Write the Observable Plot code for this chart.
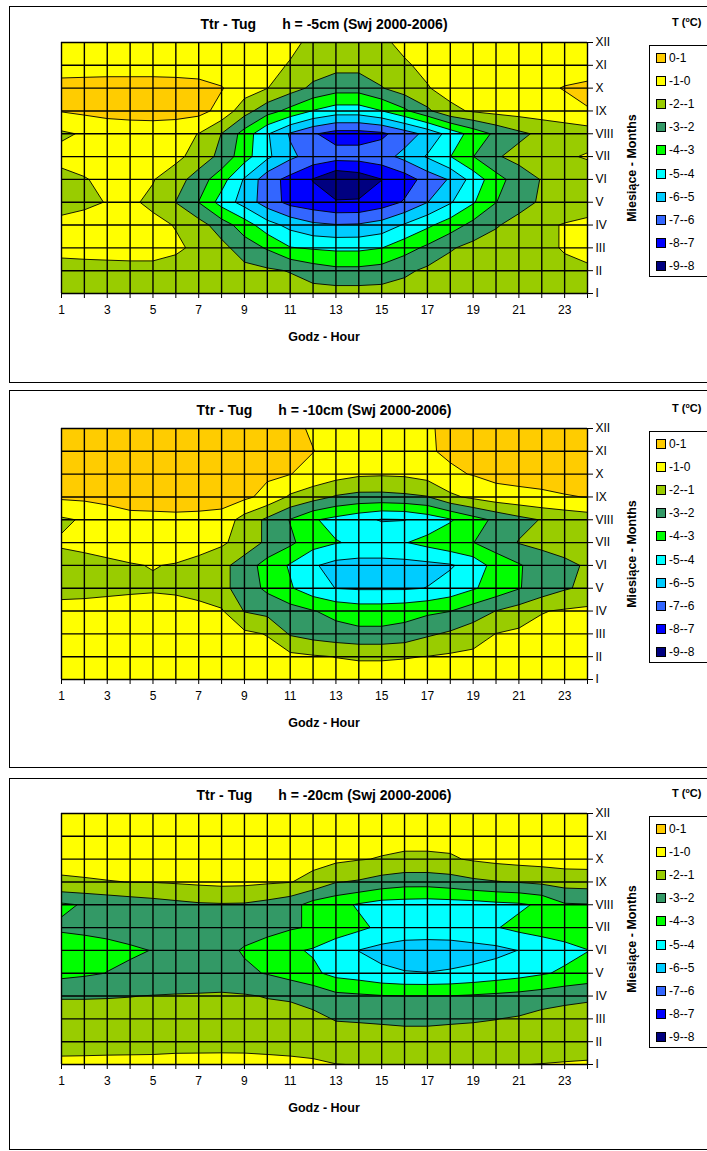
<!DOCTYPE html>
<html><head><meta charset="utf-8">
<script src="https://cdn.jsdelivr.net/npm/d3@7"></script>
<script src="https://cdn.jsdelivr.net/npm/@observablehq/plot@0.6"></script>
<style>
body{margin:0;width:707px;height:1151px;overflow:hidden;background:#fff;position:relative;font-family:"Liberation Sans",Arial,sans-serif;color:#000;}
.frame{position:absolute;left:9px;width:712px;border:1px solid #000;box-sizing:border-box;}
.abs{position:absolute;white-space:pre;}
.title{font-weight:bold;font-size:14px;transform:translate(-50%,-50%);}
.xlab{font-weight:bold;font-size:12.5px;transform:translate(-50%,-50%);}
.ylab{font-weight:bold;font-size:12.5px;transform:translate(-50%,-50%) rotate(-90deg);}
.unit{font-weight:bold;font-size:11px;transform:translate(0,-50%);}
.legend{position:absolute;left:649px;width:80px;border:1px solid #000;box-sizing:border-box;background:#fff;}
.item{position:absolute;left:6px;font-size:12px;line-height:14px;white-space:pre;}
.sw{display:inline-block;width:8px;height:8px;border:1px solid #000;margin-right:3px;vertical-align:-1px;}
svg{position:absolute;left:0;}
</style></head><body>
<script>
// ---- axes / categories ----
const hours = [1,2,3,4,5,6,7,8,9,10,11,12,13,14,15,16,17,18,19,20,21,22,23,24];
const monthNums = [1,2,3,4,5,6,7,8,9,10,11,12];
const monthLabels = ["I","II","III","IV","V","VI","VII","VIII","IX","X","XI","XII"];
const bandLabels = ["0-1","-1-0","-2--1","-3--2","-4--3","-5--4","-6--5","-7--6","-8--7","-9--8"];
const bandLows = [0,-1,-2,-3,-4,-5,-6,-7,-8,-9];
const bandColors = ["#FFCC00","#FFFF00","#99CC00","#339966","#00FF00","#00FFFF","#00CCFF","#3366FF","#0000FF","#000080"];
const depthLabels = ["-5cm","-10cm","-20cm"];

// ---- Ttr - Tug, h = -5cm : rows = months I..XII, columns = hours 1..24 ----
const tdiff5 = [
/* I    */ [-1.45,-1.45,-1.45,-1.45,-1.45,-1.45,-1.45,-1.5,-1.5,-1.55,-1.55,-1.6,-1.6,-1.6,-1.6,-1.55,-1.5,-1.5,-1.45,-1.45,-1.45,-1.45,-1.4,-1.4],
/* II   */ [-1.25,-1.3,-1.3,-1.3,-1.3,-1.35,-1.45,-1.6,-1.7,-1.85,-2.05,-2.5,-2.75,-2.75,-2.6,-2.2,-1.8,-1.55,-1.4,-1.3,-1.25,-1.2,-1.15,-1.1],
/* III  */ [-0.8,-0.7,-0.65,-0.6,-0.6,-0.85,-1.2,-1.7,-2.5,-3.1,-3.95,-4.1,-4.2,-4.2,-4.02,-3.4,-2.8,-2.1,-1.7,-1.5,-1.3,-1.15,-0.95,-0.8],
/* IV   */ [-0.85,-0.7,-0.65,-0.6,-0.75,-1.05,-1.6,-2.5,-3.5,-4.6,-5.3,-5.8,-5.95,-5.9,-5.6,-4.9,-4.2,-3.5,-2.7,-2.1,-1.6,-1.15,-0.95,-0.85],
/* V    */ [-1.2,-1.15,-0.97,-0.85,-1.2,-2.02,-3.02,-4.4,-5.4,-6.5,-7.3,-7.6,-7.9,-7.9,-7.5,-6.9,-6.02,-5.1,-4.1,-3.02,-2.4,-1.85,-1.5,-1.3],
/* VI   */ [-1.3,-1.05,-0.8,-0.7,-0.95,-1.55,-2.5,-3.6,-5.1,-6.6,-7.3,-8.05,-8.9,-8.6,-8.02,-7.5,-6.6,-5.9,-4.6,-3.4,-2.5,-1.95,-1.7,-1.6],
/* VII  */ [-0.7,-0.65,-0.55,-0.5,-0.55,-0.75,-1.4,-2.3,-3.6,-4.8,-5.8,-6.4,-6.6,-6.6,-6.4,-5.7,-4.9,-4.02,-3.02,-2.1,-1.7,-1.45,-1.15,-0.9],
/* VIII */ [-1.15,-0.9,-0.7,-0.6,-0.6,-0.75,-1.02,-2.02,-3.4,-4.9,-6.1,-6.9,-7.4,-7.4,-7.2,-6.5,-5.7,-4.6,-3.6,-2.8,-2.2,-1.8,-1.6,-1.5],
/* IX   */ [0.05,0.2,0.35,0.4,0.45,0.45,0.3,-0.3,-1.6,-2.6,-3.3,-4.05,-4.5,-4.5,-4.02,-3.2,-2.2,-1.2,-0.9,-0.7,-0.6,-0.5,-0.35,-0.05],
/* X    */ [0.4,0.45,0.45,0.45,0.45,0.4,0.3,0.05,-0.5,-0.98,-1.6,-2.2,-2.6,-2.6,-2.05,-1.5,-1.05,-0.7,-0.5,-0.4,-0.3,-0.2,0.05,0.2],
/* XI   */ [-0.5,-0.5,-0.45,-0.45,-0.45,-0.45,-0.45,-0.5,-0.6,-0.8,-1.05,-1.5,-1.7,-1.7,-1.5,-1.1,-0.8,-0.6,-0.5,-0.45,-0.45,-0.45,-0.45,-0.45],
/* XII  */ [-0.4,-0.4,-0.4,-0.45,-0.5,-0.5,-0.55,-0.6,-0.7,-0.75,-0.85,-1.15,-1.3,-1.35,-1.15,-0.8,-0.7,-0.6,-0.55,-0.5,-0.5,-0.45,-0.4,-0.4]
];

// ---- Ttr - Tug, h = -10cm ----
const tdiff10 = [
/* I    */ [-0.25,-0.25,-0.25,-0.25,-0.25,-0.25,-0.3,-0.3,-0.35,-0.4,-0.45,-0.5,-0.55,-0.55,-0.55,-0.55,-0.5,-0.45,-0.4,-0.35,-0.3,-0.3,-0.25,-0.25],
/* II   */ [-0.3,-0.3,-0.3,-0.3,-0.3,-0.3,-0.35,-0.4,-0.5,-0.6,-0.75,-0.9,-1.02,-1.1,-1.1,-1.05,-0.98,-0.85,-0.75,-0.6,-0.5,-0.45,-0.4,-0.4],
/* III  */ [-0.5,-0.5,-0.5,-0.5,-0.5,-0.5,-0.55,-0.65,-0.8,-1.05,-2.1,-2.4,-2.6,-2.75,-2.75,-2.6,-2.15,-1.85,-1.5,-0.98,-0.8,-0.7,-0.65,-0.6],
/* IV   */ [-0.75,-0.7,-0.65,-0.6,-0.6,-0.65,-0.75,-0.9,-2.05,-2.3,-2.6,-2.95,-3.3,-3.5,-3.5,-3.4,-3.2,-3.02,-2.5,-1.98,-1.6,-1.05,-0.9,-0.8],
/* V    */ [-1.25,-1.25,-1.2,-1.15,-1.1,-1.15,-1.3,-1.7,-2.5,-3.2,-3.9,-4.6,-5.02,-5.1,-5.1,-5.1,-4.98,-4.6,-4.1,-3.6,-3.05,-2.6,-2.1,-1.8],
/* VI   */ [-1.3,-1.25,-1.15,-1.05,-0.97,-1.05,-1.3,-1.7,-2.5,-3.4,-4.1,-4.9,-5.3,-5.4,-5.4,-5.35,-5.25,-5.1,-4.6,-3.6,-3.1,-2.5,-2.2,-1.9],
/* VII  */ [-0.9,-0.8,-0.7,-0.6,-0.55,-0.55,-0.6,-0.85,-1.4,-2.2,-2.8,-3.6,-3.95,-4.15,-4.15,-4.05,-3.7,-3.3,-3.02,-2.5,-1.95,-1.75,-1.6,-1.55],
/* VIII */ [-1.15,-0.9,-0.55,-0.35,-0.3,-0.25,-0.3,-0.4,-1.4,-2.2,-3.05,-3.9,-4.3,-4.7,-5.08,-5.03,-4.6,-4.1,-3.4,-2.8,-2.3,-1.95,-1.7,-1.5],
/* IX   */ [0.15,0.2,0.3,0.5,0.5,0.5,0.5,0.45,0.2,-0.3,-1.15,-1.6,-2.1,-2.3,-2.3,-2.2,-2.05,-1.2,-0.8,-0.45,-0.3,-0.15,-0.05,0.02],
/* X    */ [0.4,0.45,0.45,0.45,0.45,0.45,0.45,0.4,0.3,0.15,0.02,-0.3,-0.6,-0.85,-0.9,-0.85,-0.6,-0.15,0.05,0.3,0.35,0.3,0.35,0.35],
/* XI   */ [0.45,0.5,0.5,0.5,0.5,0.5,0.5,0.45,0.4,0.3,0.15,0.02,-0.3,-0.4,-0.4,-0.3,-0.1,0.15,0.25,0.3,0.35,0.35,0.35,0.35],
/* XII  */ [0.5,0.5,0.5,0.5,0.5,0.5,0.5,0.45,0.4,0.3,0.2,-0.1,-0.3,-0.35,-0.35,-0.3,-0.05,0.1,0.2,0.3,0.35,0.4,0.4,0.4]
];

// ---- Ttr - Tug, h = -20cm ----
const tdiff20 = [
/* I    */ [-0.75,-0.75,-0.75,-0.75,-0.75,-0.75,-0.75,-0.75,-0.75,-0.78,-0.8,-0.85,-0.985,-1.02,-1.02,-1.02,-1.02,-1.02,-1.02,-1.02,-1.02,-0.98,-0.93,-0.9],
/* II   */ [-1.43,-1.4,-1.36,-1.34,-1.32,-1.26,-1.25,-1.24,-1.25,-1.28,-1.34,-1.43,-1.55,-1.5,-1.53,-1.58,-1.58,-1.53,-1.51,-1.5,-1.5,-1.5,-1.51,-1.43],
/* III  */ [-1.7,-1.7,-1.6,-1.6,-1.55,-1.5,-1.5,-1.5,-1.55,-1.6,-1.85,-1.8,-2.05,-2.1,-2.15,-2.2,-2.2,-2.15,-2.1,-2.02,-1.9,-1.62,-1.5,-1.6],
/* IV   */ [-2.05,-2.05,-2.05,-2.02,-1.97,-1.93,-1.9,-1.85,-1.92,-2.05,-2.05,-2.3,-2.75,-2.85,-2.95,-2.99,-2.99,-2.98,-2.9,-2.8,-2.7,-2.55,-2.35,-2.15],
/* V    */ [-3.3,-3.15,-2.98,-2.85,-2.75,-2.7,-2.7,-2.75,-2.85,-3.05,-3.4,-3.8,-4.3,-4.5,-4.8,-4.95,-4.98,-4.9,-4.75,-4.55,-4.35,-4.1,-3.85,-3.7],
/* VI   */ [-3.5,-3.4,-3.25,-3.1,-2.98,-2.8,-2.7,-2.75,-3.08,-3.35,-3.85,-4.1,-4.55,-5.02,-5.3,-5.4,-5.45,-5.45,-5.4,-5.25,-4.98,-4.6,-4.3,-4.02],
/* VII  */ [-2.87,-2.8,-2.75,-2.7,-2.65,-2.6,-2.6,-2.6,-2.65,-2.75,-2.9,-3.1,-3.5,-3.8,-4.2,-4.5,-4.5,-4.45,-4.2,-4.05,-3.75,-3.6,-3.5,-3.45],
/* VIII */ [-3.15,-2.93,-2.73,-2.55,-2.4,-2.25,-2.12,-2.08,-2.1,-2.3,-2.6,-3.4,-3.7,-4.1,-4.4,-4.45,-4.5,-4.45,-4.4,-4.25,-4.15,-3.85,-3.1,-3.05],
/* IX   */ [-1.13,-1.08,-1.03,-0.99,-0.97,-0.9,-0.82,-0.75,-0.78,-0.88,-0.97,-1.25,-1.95,-2.1,-2.4,-2.6,-2.6,-2.45,-2.2,-2.05,-1.95,-1.8,-1.6,-1.55],
/* X    */ [-0.7,-0.68,-0.65,-0.62,-0.6,-0.58,-0.55,-0.52,-0.52,-0.55,-0.62,-0.75,-0.8,-0.95,-1.05,-1.15,-1.15,-1.1,-0.9,-0.75,-0.65,-0.6,-0.55,-0.55],
/* XI   */ [-0.5,-0.5,-0.5,-0.5,-0.48,-0.45,-0.45,-0.45,-0.45,-0.45,-0.5,-0.55,-0.6,-0.65,-0.7,-0.72,-0.72,-0.7,-0.65,-0.6,-0.55,-0.5,-0.5,-0.5],
/* XII  */ [-0.3,-0.3,-0.3,-0.3,-0.3,-0.3,-0.3,-0.3,-0.3,-0.3,-0.3,-0.35,-0.4,-0.45,-0.5,-0.5,-0.5,-0.45,-0.4,-0.35,-0.35,-0.3,-0.3,-0.3]
];

const grids = [tdiff5, tdiff10, tdiff20];

// layout (page pixels)
const frames = [[6, 377], [390, 378], [778, 372]];
const plotTops = [42, 428, 813];
const PH = 251;

const thresholds = bandLows.slice().reverse();             // -9 .. 0
const colorDomain = thresholds.slice(1);                     // -8 .. 0
const colorRange = bandColors.slice().reverse();             // navy .. orange

function el(cls, html, css) {
  const d = document.createElement("div");
  d.className = cls;
  d.innerHTML = html;
  Object.assign(d.style, css);
  document.body.appendChild(d);
  return d;
}

grids.forEach((grid, p) => {
  const [ft, fh] = frames[p];
  el("frame", "", {top: ft + "px", height: fh + "px"});
  const top = plotTops[p];

  const chart = Plot.plot({
    width: 707, height: 320,
    marginLeft: 61, marginRight: 120, marginTop: 36, marginBottom: 33,
    x: {domain: [1, 24], axis: null},
    y: {domain: [1, 12], axis: null},
    color: {type: "threshold", domain: colorDomain, range: colorRange},
    style: {fontFamily: "'Liberation Sans', Arial, sans-serif", fontSize: "12px", background: "transparent", overflow: "visible", color: "#000"},
    marks: [
      Plot.contour(grid.flat(), {
        width: 24, height: 12, x1: 0.5, x2: 24.5, y1: 0.5, y2: 12.5,
        fill: Plot.identity, thresholds, stroke: "#000", strokeWidth: 0.9, clip: true
      }),
      Plot.gridX(hours, {stroke: "#000", strokeOpacity: 1, strokeWidth: 1.4}),
      Plot.gridY(monthNums, {stroke: "#000", strokeOpacity: 1, strokeWidth: 1.4}),
      Plot.axisX(hours, {tickSize: 5, tickPadding: 7, tickFormat: d => d % 2 ? String(d) : "", label: null, fontSize: 12}),
      Plot.axisY(monthNums, {anchor: "right", tickSize: 5, tickPadding: 3, tickFormat: d => monthLabels[d - 1], label: null, fontSize: 12})
    ]
  });
  chart.style.top = (top - 36) + "px";
  document.body.appendChild(chart);

  el("abs title", 'Ttr - Tug<span style="margin-left:26px">h = ' + depthLabels[p] + ' (Swj 2000-2006)</span>', {left: "324px", top: (top - 18) + "px"});
  el("abs xlab", "Godz - Hour", {left: "324px", top: (top + PH + 44) + "px"});
  el("abs ylab", "Miesiące - Months", {left: "632px", top: (top + PH / 2) + "px"});
  el("abs unit", 'T (<sup style="font-size:7px">o</sup>C)', {left: "672px", top: (top - 20) + "px"});

  const lg = el("legend", "", {top: (top + 3) + "px", height: "232px"});
  bandLabels.forEach((lab, i) => {
    const it = document.createElement("div");
    it.className = "item";
    it.style.top = (5 + i * 23.1) + "px";
    it.innerHTML = '<span class="sw" style="background:' + bandColors[i] + '"></span>' + lab;
    lg.appendChild(it);
  });
});
</script>
</body></html>
